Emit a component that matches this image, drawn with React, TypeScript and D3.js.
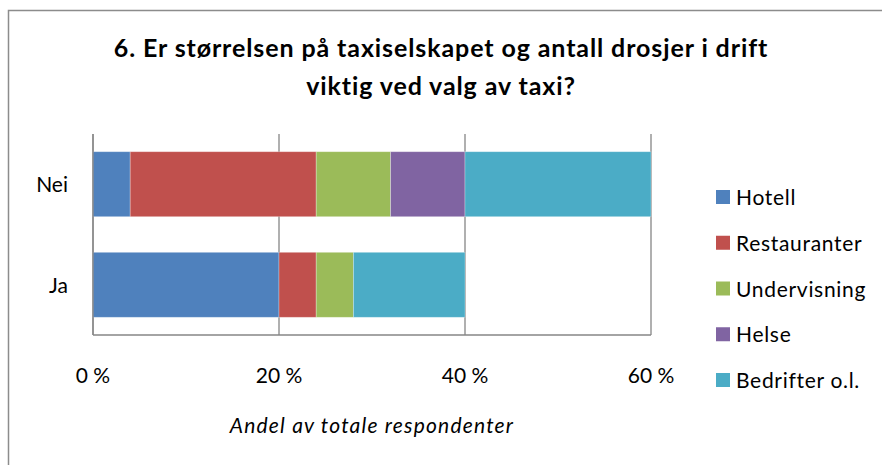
import React from "react";
import * as d3 from "d3";

const categories = ["Nei", "Ja"];
const seriesNames = ["Hotell", "Restauranter", "Undervisning", "Helse", "Bedrifter o.l."];
const hotell = [4, 20];
const restauranter = [20, 4];
const undervisning = [8, 4];
const helse = [8, 0];
const bedrifter = [20, 12];
const colors = ["#4F81BD", "#C0504D", "#9BBB59", "#8064A2", "#4BACC6"];
const tickValues = [0, 20, 40, 60];
const titleLines = ["6. Er størrelsen på taxiselskapet og antall drosjer i drift", "viktig ved valg av taxi?"];
const xTitle = "Andel av totale respondenter";

const W = 882;
const H = 465;
const plot = { left: 93, right: 651, top: 134, bottom: 335 };
const FONT = "Lato, 'Open Sans', sans-serif";

export default function App() {
  const valuesBySeries = [hotell, restauranter, undervisning, helse, bedrifter];
  const rows = categories.map((c, i) => {
    const r: any = { cat: c };
    seriesNames.forEach((s, j) => (r[s] = valuesBySeries[j][i]));
    return r;
  });
  const stacked = d3.stack<any>().keys(seriesNames)(rows);
  const x = d3.scaleLinear().domain([0, 60]).range([plot.left, plot.right]);
  const y = d3
    .scaleBand()
    .domain(categories)
    .range([plot.top, plot.bottom])
    .paddingInner(0.354)
    .paddingOuter(0.176);
  const legendY = d3.scalePoint().domain(seriesNames).range([205, 388]);

  return (
    <svg width={W} height={H} style={{ position: "absolute", left: 0, top: 0, background: "#fff" }}>
      <rect x={0} y={0} width={W} height={H} fill="#fff" />
      <rect x={8.5} y={10.5} width={W + 10} height={H + 10} fill="#fff" stroke="#8c8c8c" strokeWidth={1.5} />
      {titleLines.map((t, i) => (
        <text
          key={i}
          x={441}
          y={57 + i * 38}
          textAnchor="middle"
          fontFamily={FONT}
          fontWeight="bold"
          fontSize={25}
          letterSpacing={0.9}
          fill="#000"
        >
          {t}
        </text>
      ))}
      {tickValues.map((t) => (
        <line key={t} x1={x(t)} x2={x(t)} y1={plot.top} y2={plot.bottom} stroke="#868686" strokeWidth={1.3} />
      ))}
      {stacked.map((layer, j) =>
        layer.map((d, i) =>
          d[1] - d[0] > 0 ? (
            <rect
              key={`${j}-${i}`}
              x={x(d[0])}
              y={y(categories[i])}
              width={x(d[1]) - x(d[0])}
              height={y.bandwidth()}
              fill={colors[j]}
              stroke="rgba(255,255,255,0.35)"
              strokeWidth={0.8}
            />
          ) : null
        )
      )}
      <line x1={plot.left} x2={plot.left} y1={plot.top} y2={plot.bottom} stroke="#868686" strokeWidth={1.3} />
      <line x1={plot.left} x2={plot.right} y1={plot.bottom} y2={plot.bottom} stroke="#868686" strokeWidth={1.3} />
      {tickValues.map((t) => (
        <text
          key={t}
          x={x(t)}
          y={383}
          textAnchor="middle"
          fontFamily={FONT}
          fontSize={21}
          fill="#000"
        >
          {`${t} %`}
        </text>
      ))}
      {categories.map((c) => (
        <text
          key={c}
          x={68}
          y={(y(c) as number) + y.bandwidth() / 2 + 8}
          textAnchor="end"
          fontFamily={FONT}
          fontSize={21}
          fill="#000"
        >
          {c}
        </text>
      ))}
      <text
        x={372}
        y={433}
        textAnchor="middle"
        fontFamily={FONT}
        fontStyle="italic"
        fontSize={21}
        letterSpacing={1.2}
        fill="#000"
      >
        {xTitle}
      </text>
      {seriesNames.map((s, j) => (
        <g key={s} transform={`translate(716,${legendY(s)})`}>
          <rect x={0} y={-15} width={14} height={14} fill={colors[j]} />
          <text x={20} y={0} fontFamily={FONT} fontSize={21} letterSpacing={0.7} fill="#000">
            {s}
          </text>
        </g>
      ))}
    </svg>
  );
}
